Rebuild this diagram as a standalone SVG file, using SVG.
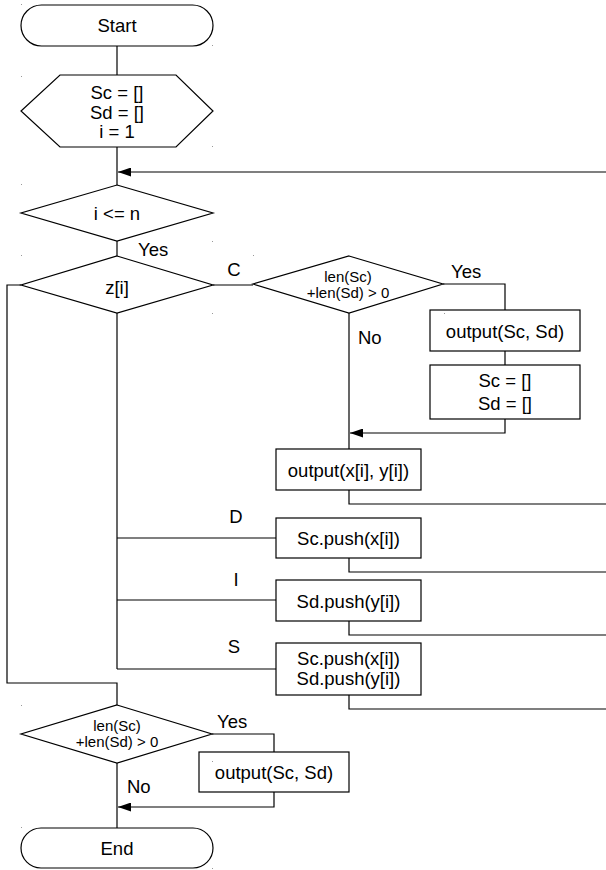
<svg xmlns="http://www.w3.org/2000/svg" width="606" height="870" viewBox="0 0 606 870">
<defs>
<style>
.s{fill:#fff;stroke:#000;stroke-width:1.2}
.c{fill:none;stroke:#000;stroke-width:1.2}
.t{font-family:"Liberation Sans",Arial,sans-serif;font-size:18.5px;fill:#000}
.m{text-anchor:middle}
.sm{font-size:15px}
.d{fill:#999}
</style>
<marker id="ah" markerWidth="14" markerHeight="9" refX="13" refY="4.5" orient="auto" markerUnits="userSpaceOnUse">
<path d="M0,0 L13,4.5 L0,9 Z" fill="#000"/>
</marker>
</defs>
<rect width="606" height="870" fill="#fff"/>
<g id="connectors">
<path class="c" d="M117,46 V75"/>
<path class="c" d="M117,147 V185"/>
<path class="c" d="M606,172 H118" marker-end="url(#ah)"/>
<path class="c" d="M117,241 V256"/>
<path class="c" d="M117,313 V669"/>
<path class="c" d="M21,285 H7 V683 H117 V705"/>
<path class="c" d="M117,538 H276"/>
<path class="c" d="M117,600 H276"/>
<path class="c" d="M117,669 H276"/>
<path class="c" d="M213,285 H253"/>
<path class="c" d="M443,284 H505 V310"/>
<path class="c" d="M505,351 V365"/>
<path class="c" d="M505,419 V433 H350" marker-end="url(#ah)"/>
<path class="c" d="M349,313 V449"/>
<path class="c" d="M349,490 V504 H606"/>
<path class="c" d="M349,558 V572 H606"/>
<path class="c" d="M349,621 V635 H606"/>
<path class="c" d="M349,695 V709 H606"/>
<path class="c" d="M212,734 H274 V752"/>
<path class="c" d="M274,792 V807 H118" marker-end="url(#ah)"/>
<path class="c" d="M117,763 V828"/>
</g>
<g id="start">
<rect class="s" x="21" y="5" width="192" height="41" rx="20.5" ry="20.5"/>
<text class="t m" x="117" y="32">Start</text>
</g>
<g id="init">
<polygon class="s" points="60,75 176,75 213,111 176,147 60,147 21,111"/>
<text class="t m" x="117" y="99">Sc = []</text>
<text class="t m" x="117" y="119">Sd = []</text>
<text class="t m" x="117" y="138">i = 1</text>
</g>
<g id="cond-loop">
<polygon class="s" points="117,185 213,213 117,241 21,213"/>
<text class="t m" x="117" y="220">i &lt;= n</text>
<text class="t" x="138" y="256">Yes</text>
</g>
<g id="switch">
<polygon class="s" points="117,256 213,285 117,313 21,285"/>
<text class="t m" x="117" y="294">z[i]</text>
<text class="t m" x="234" y="276">C</text>
<text class="t m" x="236" y="523">D</text>
<text class="t m" x="236" y="586">I</text>
<text class="t m" x="234" y="653">S</text>
</g>
<g id="cond-nonempty">
<polygon class="s" points="349,256 443,284 349,313 253,284"/>
<text class="t m sm" x="348" y="282">len(Sc)</text>
<text class="t m sm" x="348" y="298">+len(Sd) &gt; 0</text>
<text class="t" x="451" y="278">Yes</text>
<text class="t" x="358" y="344">No</text>
</g>
<g id="output-s">
<rect class="s" x="430" y="310" width="150" height="41"/>
<text class="t m" x="505" y="338">output(Sc, Sd)</text>
</g>
<g id="reset">
<rect class="s" x="430" y="365" width="150" height="54"/>
<text class="t m" x="505" y="387">Sc = []</text>
<text class="t m" x="505" y="410">Sd = []</text>
</g>
<g id="output-xy">
<rect class="s" x="276" y="449" width="145" height="41"/>
<text class="t m" x="348.5" y="477">output(x[i], y[i])</text>
</g>
<g id="push-c">
<rect class="s" x="276" y="518" width="145" height="40"/>
<text class="t m" x="348.5" y="545">Sc.push(x[i])</text>
</g>
<g id="push-d">
<rect class="s" x="276" y="580" width="145" height="41"/>
<text class="t m" x="348.5" y="608">Sd.push(y[i])</text>
</g>
<g id="push-both">
<rect class="s" x="276" y="643" width="145" height="52"/>
<text class="t m" x="348.5" y="665">Sc.push(x[i])</text>
<text class="t m" x="348.5" y="684.5">Sd.push(y[i])</text>
</g>
<g id="cond-final">
<polygon class="s" points="117,705 212,734 117,763 21,734"/>
<text class="t m sm" x="117" y="731">len(Sc)</text>
<text class="t m sm" x="117" y="747">+len(Sd) &gt; 0</text>
<text class="t" x="217" y="728">Yes</text>
<text class="t" x="127" y="793">No</text>
</g>
<g id="output-final">
<rect class="s" x="199" y="752" width="150" height="40"/>
<text class="t m" x="274" y="779">output(Sc, Sd)</text>
</g>
<g id="end">
<rect class="s" x="21" y="828" width="192" height="40" rx="20" ry="20"/>
<text class="t m" x="117" y="855">End</text>
</g>
<g id="dots">
<rect class="d" x="21" y="4" width="1" height="1"/>
<rect class="d" x="212" y="45" width="1" height="1"/>
<rect class="d" x="21" y="76" width="1" height="1"/>
<rect class="d" x="212" y="146" width="1" height="1"/>
<rect class="d" x="21" y="184" width="1" height="1"/>
<rect class="d" x="212" y="241" width="1" height="1"/>
<rect class="d" x="21" y="255" width="1" height="1"/>
<rect class="d" x="212" y="313" width="1" height="1"/>
<rect class="d" x="253" y="255" width="1" height="1"/>
<rect class="d" x="444" y="313" width="1" height="1"/>
<rect class="d" x="21" y="705" width="1" height="1"/>
<rect class="d" x="212" y="761" width="1" height="1"/>
<rect class="d" x="21" y="827" width="1" height="1"/>
<rect class="d" x="212" y="868" width="1" height="1"/>
</g>
</svg>
